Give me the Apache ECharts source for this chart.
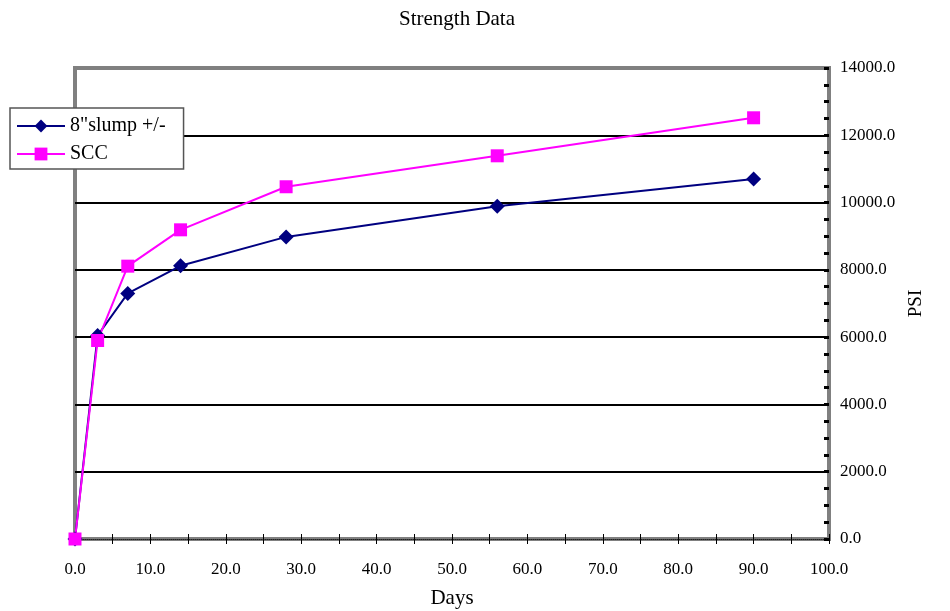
<!DOCTYPE html>
<html><head><meta charset="utf-8">
<script src="https://cdn.jsdelivr.net/npm/echarts@6/dist/echarts.min.js"></script>
<style>html,body{margin:0;padding:0;background:#fff}#c{width:950px;height:611px}</style>
</head><body><div id="c"></div>
<script>
var days = [0, 3, 7, 14, 28, 56, 90];
var slump = [0, 6050, 7300, 8120, 8980, 9890, 10700];
var scc = [0, 5900, 8110, 9190, 10470, 11390, 12520];
var seriesNames = ['8"slump +/-', 'SCC'];
var titleText = 'Strength Data';
var xName = 'Days';
var yName = 'PSI';

var font = '"Liberation Serif","Times New Roman",serif';
var chart = echarts.init(document.getElementById('c'));
function pairs(xs, ys){ return xs.map(function(x,i){return [x, ys[i]];}); }
var xBase = {
  type: 'value', min: 0, max: 100, interval: 10, position: 'bottom'
};
chart.setOption({
  animation: false,
  title: { text: titleText, left: 452, textAlign: 'center', top: 4,
    textStyle: { fontFamily: font, fontSize: 21, fontWeight: 'normal', color: '#000' } },
  grid: { left: 75, top: 68, width: 754, height: 471, show: true, outerBoundsMode: 'none',
    containLabel: false,
    borderColor: '#808080', borderWidth: 4, backgroundColor: '#fff' },
  legend: {
    left: 10, top: 108, orient: 'vertical', backgroundColor: '#fff',
    borderColor: '#555', borderWidth: 1.5, borderRadius: 0,
    padding: [8, 18, 5, 6], itemGap: 8, itemWidth: 48, itemHeight: 16,
    textStyle: { fontFamily: font, fontSize: 20, color: '#000' },
    data: seriesNames
  },
  xAxis: [Object.assign({}, xBase, {
    name: xName, nameLocation: 'middle', nameGap: 49,
    nameTextStyle: { fontFamily: font, fontSize: 21, color: '#000' },
    axisLine: { onZero: false, lineStyle: { color: '#808080', width: 4 } },
    axisTick: { show: true, inside: false, length: 5, lineStyle: { color: '#000', width: 1 } },
    minorTick: { show: true, splitNumber: 2, length: 5, lineStyle: { color: '#000', width: 1 } },
    axisLabel: { fontFamily: font, fontSize: 17, color: '#000', margin: 22,
      formatter: function(v){ return v.toFixed(1); } },
    splitLine: { show: false }
  }), Object.assign({}, xBase, {
    axisLine: { onZero: false, lineStyle: { color: '#222', width: 1, type: [1, 1] } },
    axisTick: { show: true, inside: true, length: 5, lineStyle: { color: '#000', width: 1 } },
    minorTick: { show: true, splitNumber: 2, length: 5, lineStyle: { color: '#000', width: 1 } },
    axisLabel: { show: false }, splitLine: { show: false }
  })],
  yAxis: {
    type: 'value', min: 0, max: 14000, interval: 2000, position: 'right',
    name: yName, nameLocation: 'middle', nameGap: 74, nameRotate: 90,
    nameTextStyle: { fontFamily: font, fontSize: 19, color: '#000' },
    axisLine: { show: true, onZero: false, lineStyle: { color: '#808080', width: 4 } },
    axisTick: { show: true, inside: true, length: 5, lineStyle: { color: '#000', width: 3 } },
    minorTick: { show: true, splitNumber: 4, length: 5, lineStyle: { color: '#000', width: 3 } },
    axisLabel: { fontFamily: font, fontSize: 17, color: '#000', margin: 11,
      formatter: function(v){ return v.toFixed(1); } },
    splitLine: { show: true, showMinLine: false, showMaxLine: false, lineStyle: { color: '#000', width: 2 } }
  },
  series: [
    { name: seriesNames[0], type: 'line', data: pairs(days, slump),
      symbol: 'diamond', symbolSize: 15, color: '#000080',
      lineStyle: { width: 2, color: '#000080' }, itemStyle: { color: '#000080' } },
    { name: seriesNames[1], type: 'line', data: pairs(days, scc),
      symbol: 'rect', symbolSize: 13, color: '#FF00FF',
      lineStyle: { width: 2, color: '#FF00FF' }, itemStyle: { color: '#FF00FF' } }
  ]
});
</script></body></html>
